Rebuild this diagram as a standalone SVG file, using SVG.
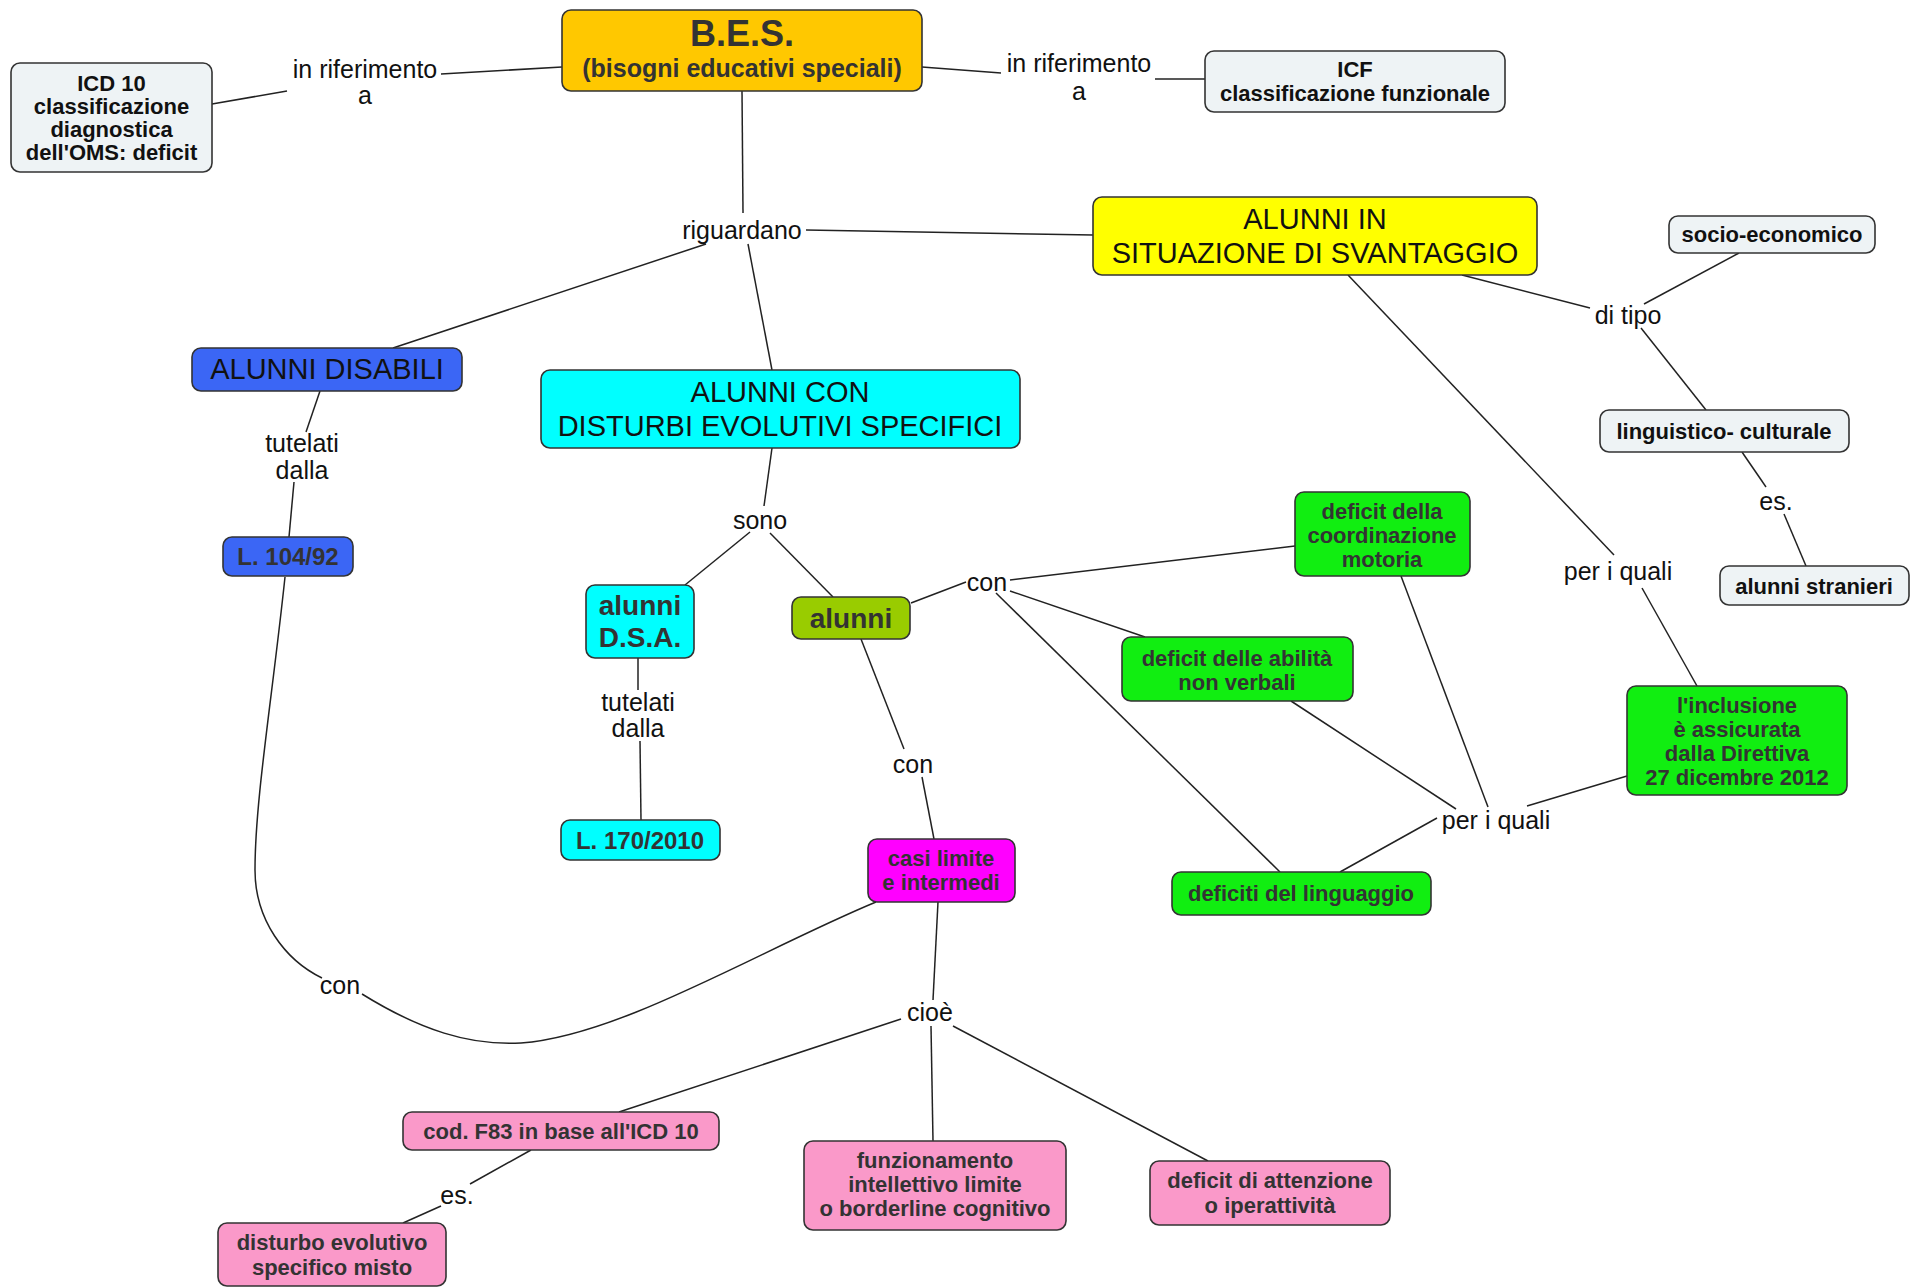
<svg xmlns="http://www.w3.org/2000/svg" width="1910" height="1287" viewBox="0 0 1910 1287">
<style>
.n{stroke:#333;stroke-width:1.6}
.pale{fill:#EEF3F5}.orange{fill:#FFC800}.yellow{fill:#FFFF00}.blue{fill:#3B66F5}.cyan{fill:#00FFFF}
.olive{fill:#99CC00}.mag{fill:#FF00FF}.green{fill:#11EE11}.pink{fill:#FA99C9}
text{font-family:"Liberation Sans",Arial,sans-serif;text-anchor:middle}
.b{font-weight:bold;font-size:22px;fill:#333}
.bk{font-weight:bold;font-size:22px;fill:#111}
.h{font-size:29px;fill:#111}
.l{font-size:25px;fill:#111}
.c line,.c path{stroke:#222;stroke-width:1.5;fill:none}
</style>
<rect width="1910" height="1287" fill="#fff"/>
<g class="c" id="connectors">
<line x1="212" y1="104" x2="287" y2="91"/>
<line x1="441" y1="74" x2="562" y2="67"/>
<line x1="922" y1="67" x2="1001" y2="73"/>
<line x1="1155" y1="79" x2="1205" y2="79"/>
<line x1="742" y1="91" x2="743" y2="213"/>
<line x1="806" y1="230" x2="1093" y2="235"/>
<line x1="706" y1="244" x2="393" y2="348"/>
<line x1="748" y1="244" x2="772" y2="370"/>
<line x1="320" y1="391" x2="306" y2="432"/>
<line x1="294" y1="482" x2="289" y2="537"/>
<path d="M285,577 C272,700 255,800 255,870 C255,920 285,960 322,978"/>
<path d="M362,994 C420,1030 470,1046 521,1043 C620,1036 760,950 876,902"/>
<line x1="772" y1="448" x2="764" y2="506"/>
<line x1="750" y1="532" x2="685" y2="585"/>
<line x1="770" y1="533" x2="833" y2="597"/>
<line x1="638" y1="658" x2="638" y2="690"/>
<line x1="640" y1="741" x2="641" y2="820"/>
<line x1="911" y1="603" x2="966" y2="582"/>
<line x1="1010" y1="580" x2="1295" y2="546"/>
<line x1="1010" y1="591" x2="1145" y2="637"/>
<line x1="996" y1="593" x2="1280" y2="872"/>
<line x1="861" y1="639" x2="904" y2="749"/>
<line x1="922" y1="777" x2="934" y2="839"/>
<line x1="938" y1="902" x2="933" y2="1000"/>
<line x1="901" y1="1019" x2="619" y2="1112"/>
<line x1="931" y1="1026" x2="933" y2="1141"/>
<line x1="953" y1="1026" x2="1208" y2="1161"/>
<line x1="531" y1="1150" x2="470" y2="1184"/>
<line x1="441" y1="1206" x2="403" y2="1223"/>
<line x1="1348" y1="275" x2="1614" y2="555"/>
<line x1="1642" y1="588" x2="1697" y2="686"/>
<line x1="1462" y1="275" x2="1590" y2="308"/>
<line x1="1644" y1="304" x2="1739" y2="253"/>
<line x1="1641" y1="328" x2="1706" y2="410"/>
<line x1="1742" y1="452" x2="1766" y2="487"/>
<line x1="1784" y1="514" x2="1806" y2="566"/>
<line x1="1401" y1="576" x2="1488" y2="807"/>
<line x1="1291" y1="701" x2="1456" y2="809"/>
<line x1="1340" y1="872" x2="1437" y2="818"/>
<line x1="1527" y1="806" x2="1627" y2="776"/>
</g>
<g id="labels">
<text class="l" x="365" y="78">in riferimento</text><text class="l" x="365" y="104">a</text>
<text class="l" x="1079" y="72">in riferimento</text><text class="l" x="1079" y="100">a</text>
<text class="l" x="742" y="239">riguardano</text>
<text class="l" x="302" y="452">tutelati</text><text class="l" x="302" y="479">dalla</text>
<text class="l" x="760" y="529">sono</text>
<text class="l" x="638" y="711">tutelati</text><text class="l" x="638" y="737">dalla</text>
<text class="l" x="987" y="591">con</text>
<text class="l" x="913" y="773">con</text>
<text class="l" x="340" y="994">con</text>
<text class="l" x="930" y="1021">cioè</text>
<text class="l" x="457" y="1204">es.</text>
<text class="l" x="1496" y="829">per i quali</text>
<text class="l" x="1618" y="580">per i quali</text>
<text class="l" x="1628" y="324">di tipo</text>
<text class="l" x="1776" y="510">es.</text>
</g>
<g id="bes"><rect class="n orange" x="562" y="10" width="360" height="81" rx="9"/>
<text x="742" y="46" style="font-weight:bold;font-size:36px;fill:#333">B.E.S.</text>
<text x="742" y="77" style="font-weight:bold;font-size:25px;fill:#333">(bisogni educativi speciali)</text></g>
<g id="icd10"><rect class="n pale" x="11" y="63" width="201" height="109" rx="9"/>
<text class="bk" x="111.5" y="91">ICD 10</text><text class="bk" x="111.5" y="114">classificazione</text><text class="bk" x="111.5" y="137">diagnostica</text><text class="bk" x="111.5" y="160">dell'OMS: deficit</text></g>
<g id="icf"><rect class="n pale" x="1205" y="51" width="300" height="61" rx="9"/>
<text class="bk" x="1355" y="77">ICF</text><text class="bk" x="1355" y="101">classificazione funzionale</text></g>
<g id="svantaggio"><rect class="n yellow" x="1093" y="197" width="444" height="78" rx="9"/>
<text class="h" x="1315" y="229">ALUNNI IN</text><text class="h" x="1315" y="263">SITUAZIONE DI SVANTAGGIO</text></g>
<g id="disabili"><rect class="n blue" x="192" y="348" width="270" height="43" rx="9"/>
<text class="h" x="327" y="379">ALUNNI DISABILI</text></g>
<g id="disturbi"><rect class="n cyan" x="541" y="370" width="479" height="78" rx="9"/>
<text class="h" x="780" y="402">ALUNNI CON</text><text class="h" x="780" y="436">DISTURBI EVOLUTIVI SPECIFICI</text></g>
<g id="l104"><rect class="n blue" x="223" y="537" width="130" height="39" rx="9"/>
<text class="b" x="288" y="565" style="font-size:24px">L. 104/92</text></g>
<g id="dsa"><rect class="n cyan" x="586" y="585" width="108" height="73" rx="9"/>
<text class="b" x="640" y="615" style="font-size:28px">alunni</text><text class="b" x="640" y="647" style="font-size:28px">D.S.A.</text></g>
<g id="alunni"><rect class="n olive" x="792" y="597" width="118" height="42" rx="9"/>
<text class="b" x="851" y="628" style="font-size:28px">alunni</text></g>
<g id="l170"><rect class="n cyan" x="561" y="820" width="159" height="40" rx="9"/>
<text class="b" x="640" y="849" style="font-size:24px">L. 170/2010</text></g>
<g id="casi"><rect class="n mag" x="868" y="839" width="147" height="63" rx="9"/>
<text class="b" x="941" y="866">casi limite</text><text class="b" x="941" y="890">e intermedi</text></g>
<g id="coordinazione"><rect class="n green" x="1295" y="492" width="175" height="84" rx="9"/>
<text class="b" x="1382" y="519">deficit della</text><text class="b" x="1382" y="543">coordinazione</text><text class="b" x="1382" y="567">motoria</text></g>
<g id="abilita"><rect class="n green" x="1122" y="637" width="231" height="64" rx="9"/>
<text class="b" x="1237" y="666">deficit delle abilità</text><text class="b" x="1237" y="690">non verbali</text></g>
<g id="linguaggio"><rect class="n green" x="1172" y="872" width="259" height="43" rx="9"/>
<text class="b" x="1301" y="901">deficiti del linguaggio</text></g>
<g id="inclusione"><rect class="n green" x="1627" y="686" width="220" height="109" rx="9"/>
<text class="b" x="1737" y="713">l'inclusione</text><text class="b" x="1737" y="737">è assicurata</text><text class="b" x="1737" y="761">dalla Direttiva</text><text class="b" x="1737" y="785">27 dicembre 2012</text></g>
<g id="socio"><rect class="n pale" x="1669" y="216" width="206" height="37" rx="9"/>
<text class="bk" x="1772" y="242">socio-economico</text></g>
<g id="linguistico"><rect class="n pale" x="1600" y="410" width="249" height="42" rx="9"/>
<text class="bk" x="1724" y="439">linguistico- culturale</text></g>
<g id="stranieri"><rect class="n pale" x="1720" y="566" width="189" height="39" rx="9"/>
<text class="bk" x="1814" y="594">alunni stranieri</text></g>
<g id="f83"><rect class="n pink" x="403" y="1112" width="316" height="38" rx="9"/>
<text class="b" x="561" y="1139">cod. F83 in base all'ICD 10</text></g>
<g id="misto"><rect class="n pink" x="218" y="1223" width="228" height="63" rx="9"/>
<text class="b" x="332" y="1250">disturbo evolutivo</text><text class="b" x="332" y="1275">specifico misto</text></g>
<g id="funzionamento"><rect class="n pink" x="804" y="1141" width="262" height="89" rx="9"/>
<text class="b" x="935" y="1168">funzionamento</text><text class="b" x="935" y="1192">intellettivo limite</text><text class="b" x="935" y="1216">o borderline cognitivo</text></g>
<g id="attenzione"><rect class="n pink" x="1150" y="1161" width="240" height="64" rx="9"/>
<text class="b" x="1270" y="1188">deficit di attenzione</text><text class="b" x="1270" y="1213">o iperattività</text></g>
</svg>
